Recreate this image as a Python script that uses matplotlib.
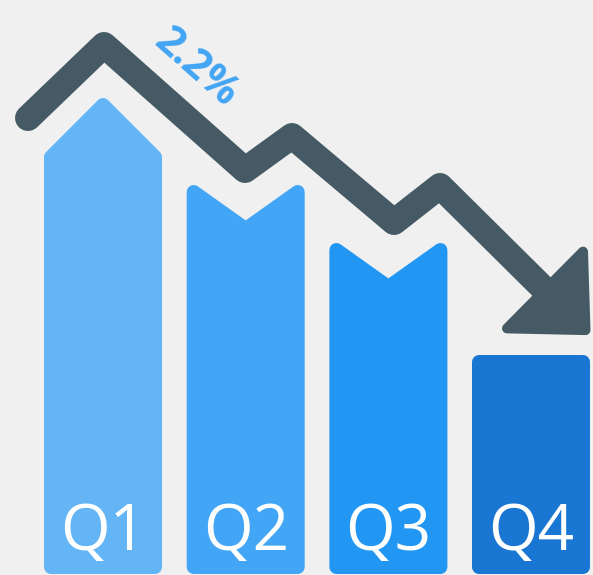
import numpy as np
import matplotlib.pyplot as plt
from matplotlib.patches import Polygon

# 数据
quarters = ['Q1', 'Q2', 'Q3', 'Q4']
values = [425, 390, 332, 220]          # 柱子高度（肩部）
cap_shape = ['up', 'notch', 'notch', 'flat']
colors = ['#64B5F6', '#42A5F5', '#2196F3', '#1976D2']

trend_x = [28, 104, 245, 292, 394, 440, 545]
trend_y = [457, 530, 405, 439, 353, 389, 285]
change_label = '2.2%'

bg = '#F0F0F0'
arrow_color = '#455A64'

W, H = 593, 575
fig = plt.figure(figsize=(W / 100, H / 100), dpi=100, facecolor=bg)
ax = fig.add_axes([0, 0, 1, 1])
ax.set_xlim(0, W)
ax.set_ylim(0, H)
ax.set_facecolor(bg)
ax.axis('off')

px = 0.72  # 1 像素 = 0.72 pt

# 柱子
bar_w = 118
r = 7  # 圆角半径
bottom = 1
for i, (q, v, s, c) in enumerate(zip(quarters, values, cap_shape, colors)):
    x0 = 44 + i * 142.7
    x1 = x0 + bar_w
    xm = (x0 + x1) / 2
    L, R, B = x0 + r, x1 - r, bottom + r
    if s == 'up':
        verts = [(L, B), (R, B), (R, v - r), (xm, v + 52 - r), (L, v - r)]
    elif s == 'notch':
        verts = [(L, B), (R, B), (R, v - r), (xm, v - 37 - r), (L, v - r)]
    else:
        verts = [(L, B), (R, B), (R, v - r), (L, v - r)]
    ax.add_patch(Polygon(verts, closed=True, fc=c, ec=c, lw=2 * r * px,
                         joinstyle='round', zorder=2))
    ax.text(xm, 42, q, color='white', fontsize=46, family=['Open Sans', 'DejaVu Sans'],
            ha='center', va='center', zorder=4)

# 趋势箭头
ax.plot(trend_x, trend_y, color=arrow_color, lw=26 * px,
        solid_joinstyle='round', solid_capstyle='round', zorder=3)

d = np.array([trend_x[-1] - trend_x[-2], trend_y[-1] - trend_y[-2]], dtype=float)
d /= np.linalg.norm(d)
n = np.array([d[1], -d[0]])
end = np.array([trend_x[-1], trend_y[-1]])
hr = 5
head = [end + n * (59 - hr), end - n * (59 - hr), end + d * (62 - hr)]
ax.add_patch(Polygon(head, closed=True, fc=arrow_color, ec=arrow_color,
                     lw=2 * hr * px, joinstyle='round', zorder=3))

# 百分比标签
ang = np.degrees(np.arctan2(trend_y[2] - trend_y[1], trend_x[2] - trend_x[1]))
mx = (trend_x[1] + trend_x[2]) / 2
my = (trend_y[1] + trend_y[2]) / 2
ax.annotate(change_label, (mx, my), xytext=(15, 28), textcoords='offset points',
            rotation=ang, rotation_mode='anchor', ha='center', va='center',
            color='#42A5F5', fontsize=30, fontweight='bold',
            family=['Open Sans', 'DejaVu Sans'], zorder=4)

fig.savefig('out.png', dpi=100, facecolor=bg)
